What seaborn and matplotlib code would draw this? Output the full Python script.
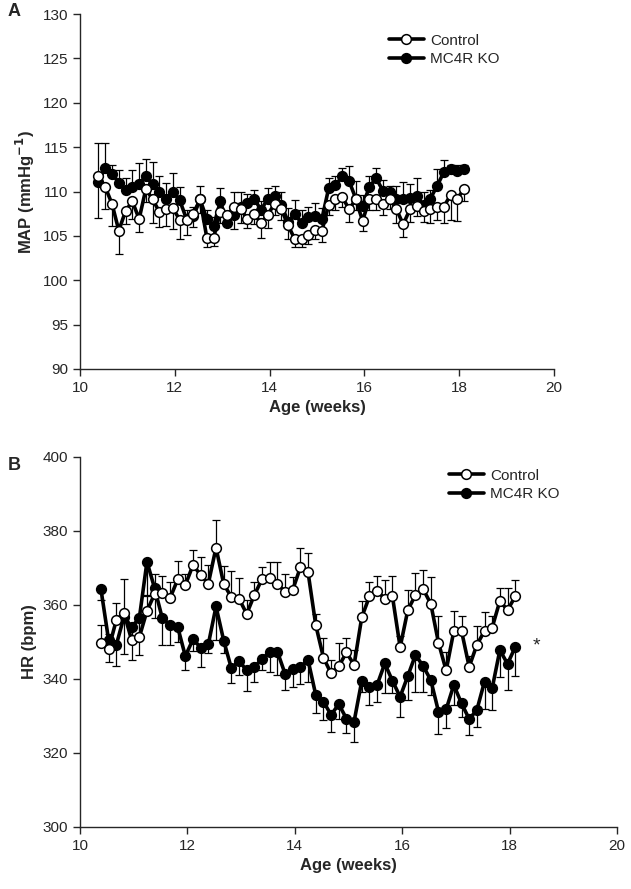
import numpy as np
import pandas as pd
import matplotlib
matplotlib.use("Agg")
import matplotlib.pyplot as plt
import seaborn as sns

# daily recordings, age in weeks
day = np.arange(55)
age_wk = 10.39 + day / 7

ctrl_map = [111.7, 110.5, 108.6, 105.6, 107.8, 108.9, 106.9, 110.3, 109.1, 107.7,
            108.0, 108.1, 106.8, 106.8, 107.5, 109.1, 104.8, 104.8, 107.7, 107.4,
            108.2, 108.0, 106.9, 107.5, 106.4, 107.4, 108.6, 108.0, 106.2, 104.6,
            104.7, 105.1, 105.7, 105.6, 108.5, 109.2, 109.4, 108.0, 109.1, 106.7,
            109.1, 109.1, 108.6, 109.2, 108.0, 106.3, 108.0, 108.4, 107.8, 108.0,
            108.3, 108.3, 109.6, 109.2, 110.3]
ctrl_map_sem = [4.7, 2.5, 2.5, 2.6, 1.5, 2.0, 1.5, 1.5, 2.7, 1.7,
                1.9, 2.3, 2.1, 1.7, 1.5, 1.5, 1.0, 0.9, 1.2, 1.0,
                2.4, 1.5, 1.0, 1.2, 1.6, 1.5, 1.2, 1.2, 1.5, 0.8,
                0.9, 1.0, 1.0, 1.3, 1.2, 1.3, 1.2, 1.4, 1.2, 1.2,
                1.2, 1.2, 1.2, 1.2, 1.5, 1.4, 1.4, 1.2, 1.2, 1.5,
                1.5, 1.8, 2.8, 2.5, 1.4]
ko_map = [111.1, 112.7, 112.0, 111.0, 110.2, 110.5, 110.9, 111.7, 110.8, 110.0,
          109.2, 110.0, 109.0, 106.9, 107.2, 109.1, 106.9, 106.1, 108.9, 106.4,
          107.4, 108.2, 108.7, 109.2, 107.9, 109.2, 109.5, 108.5, 106.6, 107.5,
          106.4, 107.1, 107.2, 106.9, 110.4, 110.7, 111.7, 111.2, 109.2, 108.4,
          110.5, 111.5, 110.1, 110.0, 109.1, 109.1, 109.3, 109.5, 108.5, 109.2,
          110.6, 112.2, 112.5, 112.3, 112.5]
ko_map_sem = [4.4, 2.8, 1.0, 1.4, 1.3, 1.9, 2.3, 2.0, 2.5, 1.8,
              1.8, 2.1, 1.5, 1.0, 1.0, 1.5, 1.0, 1.0, 1.5, 1.3,
              2.6, 1.8, 1.0, 1.0, 1.0, 1.2, 1.1, 1.5, 1.5, 1.5,
              1.5, 1.2, 1.5, 1.2, 1.1, 1.1, 0.9, 1.7, 2.0, 1.2,
              1.2, 1.1, 1.2, 0.6, 1.5, 2.0, 1.5, 2.0, 1.5, 1.0,
              1.9, 1.4, 0.5, 0.7, 0.5]

ctrl_hr = [349.6, 348.1, 355.9, 357.9, 350.5, 351.3, 358.4, 363.0, 363.2, 361.8,
           366.9, 365.4, 370.8, 368.1, 365.8, 375.5, 365.7, 362.1, 361.7, 357.6,
           362.7, 367.0, 367.2, 365.7, 363.6, 364.1, 370.2, 368.8, 354.6, 345.8,
           341.5, 343.4, 347.2, 343.8, 356.7, 362.3, 363.8, 361.7, 362.3, 348.6,
           358.6, 362.7, 364.3, 360.3, 349.8, 342.3, 353.0, 353.0, 343.3, 349.2,
           353.0, 353.9, 361.1, 358.6, 362.3]
ctrl_hr_sem = [5.0, 4.0, 4.7, 9.0, 4.0, 4.0, 4.0, 5.5, 4.6, 4.5,
               5.0, 3.0, 4.0, 5.0, 5.0, 7.5, 4.8, 7.0, 5.7, 3.8,
               3.6, 3.2, 4.3, 5.8, 4.8, 3.4, 5.1, 5.2, 3.0, 5.2,
               3.6, 6.3, 3.8, 4.0, 4.4, 3.8, 4.0, 5.1, 5.5, 3.0,
               5.4, 5.9, 5.2, 7.2, 7.2, 5.0, 5.5, 4.0, 3.0, 5.0,
               5.0, 3.0, 3.4, 6.1, 4.5]
ko_hr = [364.3, 350.5, 349.2, 356.8, 354.1, 356.4, 371.7, 364.5, 356.4, 354.6,
         354.1, 346.2, 350.7, 348.5, 349.4, 359.6, 350.4, 342.9, 344.9, 342.3,
         343.3, 345.4, 347.4, 347.4, 341.4, 342.7, 343.3, 345.1, 335.7, 333.9,
         330.3, 333.2, 329.3, 328.5, 339.5, 337.9, 338.4, 344.2, 339.5, 335.2,
         340.8, 346.5, 343.5, 339.7, 331.2, 331.8, 338.4, 333.4, 329.2, 331.6,
         339.3, 337.5, 347.8, 344.1, 348.6]
ko_hr_sem = [3.0, 6.0, 5.7, 10.0, 9.0, 10.0, 9.0, 8.0, 7.2, 5.4,
             4.0, 3.8, 3.0, 5.3, 2.3, 9.0, 3.4, 4.1, 3.8, 5.5,
             4.0, 3.0, 5.4, 6.3, 4.4, 4.8, 4.7, 5.8, 5.0, 5.0,
             4.5, 4.0, 4.0, 5.4, 3.0, 5.0, 4.5, 8.0, 3.4, 5.6,
             6.5, 10.0, 7.0, 4.0, 6.0, 5.0, 5.4, 3.6, 4.3, 4.7,
             7.4, 5.9, 7.3, 7.1, 7.7]

sns.set_style("ticks")
plt.rcParams['font.family'] = ['Liberation Sans', 'DejaVu Sans']
plt.rcParams['font.size'] = 11

W, H = 631, 889
fig = plt.figure(figsize=(W / 100, H / 100), dpi=100)


def px_axes(left, top, right, bottom):
    return fig.add_axes([left / W, 1 - bottom / H, (right - left) / W, (bottom - top) / H])


def draw_panel(ax, ctrl, ctrl_err, ko, ko_err, err_dir):
    z = np.zeros(len(day))
    if err_dir == 'ctrl_down':
        ce, ke = [ctrl_err, z], [z, ko_err]
    else:
        ce, ke = [z, ctrl_err], [ko_err, z]
    ax.errorbar(age_wk, ko, yerr=ke, fmt='none', ecolor='black', elinewidth=0.9,
                capsize=3, capthick=0.9, zorder=1)
    ax.errorbar(age_wk, ctrl, yerr=ce, fmt='none', ecolor='black', elinewidth=0.9,
                capsize=3, capthick=0.9, zorder=1)
    df = pd.DataFrame({'age': age_wk, 'ctrl': ctrl, 'ko': ko})
    sns.lineplot(data=df, x='age', y='ctrl', ax=ax, color='black', lw=2.6,
                 marker='o', markersize=7, markerfacecolor='white',
                 markeredgecolor='black', markeredgewidth=1.1, label='Control', zorder=3)
    sns.lineplot(data=df, x='age', y='ko', ax=ax, color='black', lw=2.6,
                 marker='o', markersize=7, markerfacecolor='black',
                 markeredgecolor='black', markeredgewidth=1.1, label='MC4R KO', zorder=2)
    ax.set_xlim(10, 20)
    ax.set_xticks([10, 12, 14, 16, 18, 20])
    sns.despine(ax=ax)
    for s in ['left', 'bottom']:
        ax.spines[s].set_linewidth(1.0)
    ax.tick_params(axis='both', direction='out', length=5, width=1, labelsize=11)
    ax.set_xlabel('Age (weeks)', fontweight='bold', fontsize=12)


axA = px_axes(80, 14, 554, 369)
draw_panel(axA, ctrl_map, ctrl_map_sem, ko_map, ko_map_sem, 'ctrl_down')
axA.set_ylim(90, 130)
axA.set_yticks(range(90, 131, 5))
axA.set_ylabel('MAP (mmHg$^{\\mathbf{-1}}$)', fontweight='bold', fontsize=12)
axA.legend(frameon=False, loc='upper left', bbox_to_anchor=(375 / W, 1 - 20 / H),
           bbox_transform=fig.transFigure, handlelength=2.3, fontsize=11,
           labelspacing=0.3, handletextpad=0.4)

axB = px_axes(80, 457, 617, 827)
draw_panel(axB, ctrl_hr, ctrl_hr_sem, ko_hr, ko_hr_sem, 'ctrl_up')
axB.set_ylim(300, 400)
axB.set_yticks(range(300, 401, 20))
axB.set_ylabel('HR (bpm)', fontweight='bold', fontsize=12)
axB.legend(frameon=False, loc='upper left', bbox_to_anchor=(435 / W, 1 - 455 / H),
           bbox_transform=fig.transFigure, handlelength=2.3, fontsize=11,
           labelspacing=0.3, handletextpad=0.4)
axB.text(18.5, 349, '*', fontsize=14, ha='center', va='center')

fig.text(8 / W, 1 - 12 / H, 'A', fontweight='bold', fontsize=13, va='center')
fig.text(8 / W, 1 - 465 / H, 'B', fontweight='bold', fontsize=13, va='center')

fig.savefig('out.png', dpi=100)
